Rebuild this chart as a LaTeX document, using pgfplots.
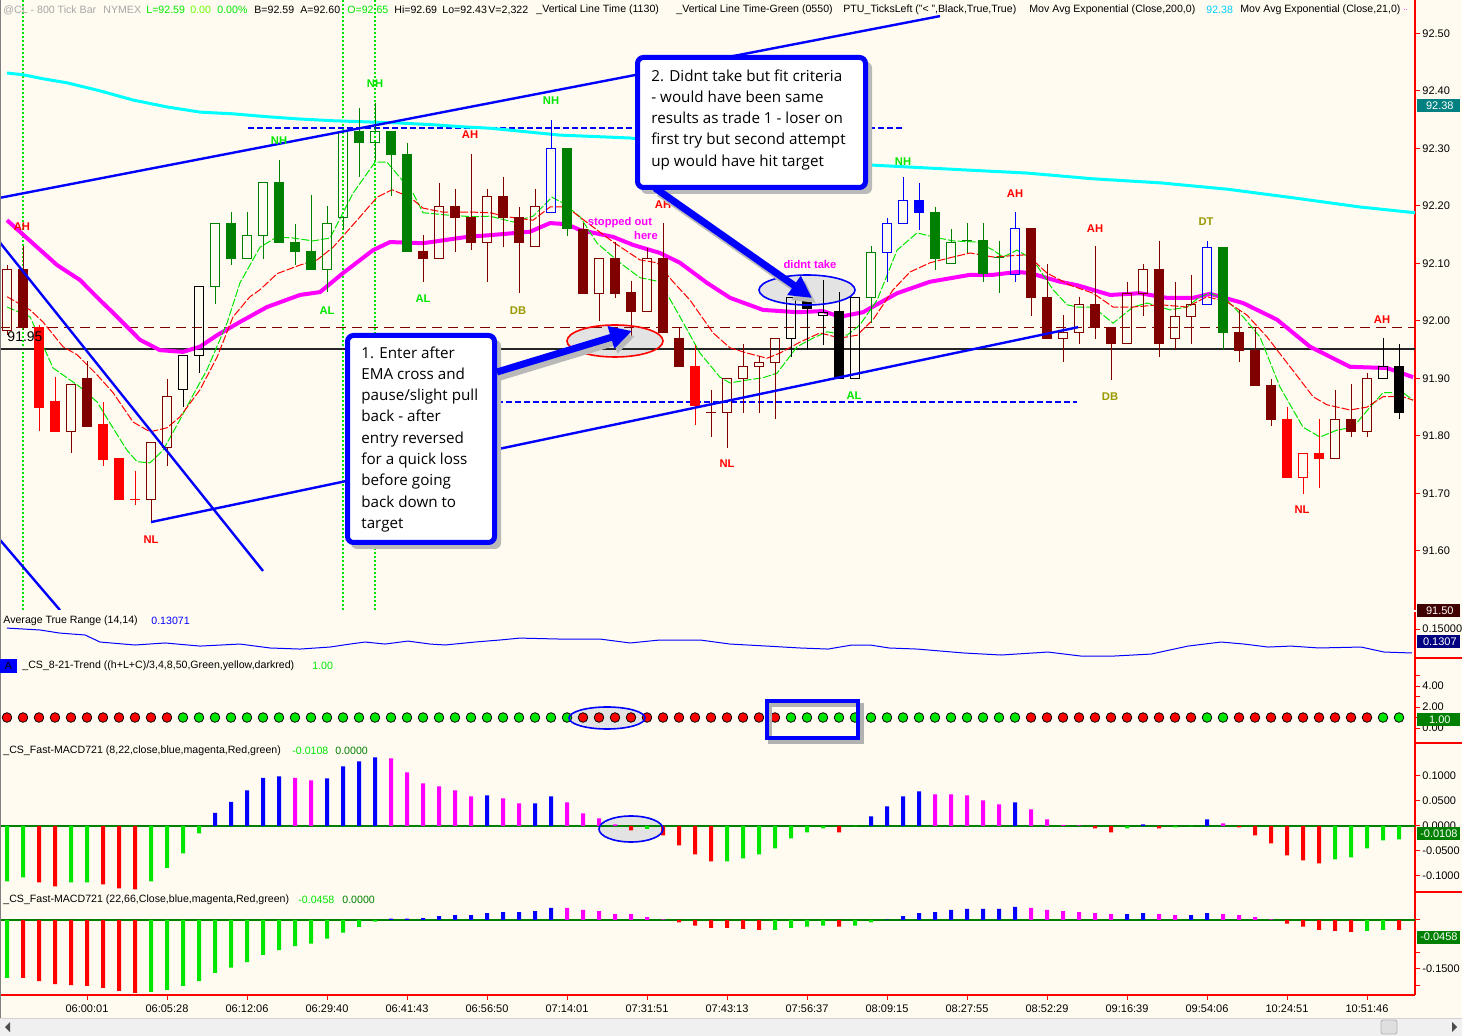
\documentclass[border=0pt]{standalone}
\usepackage{pgfplots}
\pgfplotsset{compat=1.18}
\usepackage{pgfplotstable}
\usepackage{fontspec}
\setmainfont{Liberation Sans}
\newfontfamily\osans{Open Sans}
\usetikzlibrary{arrows.meta}

\definecolor{bgc}{RGB}{255,251,240}
\definecolor{cgreen}{RGB}{0,128,0}
\definecolor{cdred}{RGB}{128,0,0}
\definecolor{cred}{RGB}{255,0,0}
\definecolor{cblue}{RGB}{0,0,255}
\definecolor{clime}{RGB}{0,230,0}
\definecolor{cmag}{RGB}{255,0,255}
\definecolor{ccyan}{RGB}{0,255,255}
\definecolor{colive}{RGB}{153,153,0}
\definecolor{cteal}{RGB}{0,128,128}
\definecolor{cnavy}{RGB}{0,0,128}
\definecolor{cdbrown}{RGB}{64,0,0}

\newcommand\sm{\fontsize{5.3}{6}\selectfont}
\newcommand\lb{\fontsize{5.6}{6}\selectfont\bfseries}

\tikzset{
 wk1/.style={draw=cgreen, line width=0.5pt}, bd1/.style={draw=cgreen, fill=none, line width=0.5pt},
 wk2/.style={draw=cgreen, line width=0.5pt}, bd2/.style={draw=cgreen, fill=cgreen, line width=0.5pt},
 wk3/.style={draw=cdred, line width=0.5pt}, bd3/.style={draw=cdred, fill=none, line width=0.5pt},
 wk4/.style={draw=cdred, line width=0.5pt}, bd4/.style={draw=cdred, fill=cdred, line width=0.5pt},
 wk5/.style={draw=cred, line width=0.5pt}, bd5/.style={draw=cred, fill=cred, line width=0.5pt},
 wk6/.style={draw=black, line width=0.5pt}, bd6/.style={draw=black, fill=none, line width=0.5pt},
 wk7/.style={draw=black, line width=0.5pt}, bd7/.style={draw=black, fill=black, line width=0.5pt},
 wk8/.style={draw=cblue, line width=0.5pt}, bd8/.style={draw=cblue, fill=none, line width=0.5pt},
 wk9/.style={draw=cblue, line width=0.5pt}, bd9/.style={draw=cblue, fill=cblue, line width=0.5pt},
 wk10/.style={draw=cred, line width=0.5pt}, bd10/.style={draw=cred, fill=none, line width=0.5pt},
}

\pgfplotsset{
 panel/.style={
  scale only axis, width=707.5pt, xmin=-0.4375, xmax=88,
  axis y line*=right,
  axis line style={red, line width=0.6pt},
  tick style={red, line width=0.5pt},
  tick align=outside, major tick length=2.5pt,
  yticklabel style={font=\fontsize{5.5}{6}\selectfont, black, inner sep=0.5pt, xshift=0.5pt},
  xticklabel style={font=\fontsize{5.5}{6}\selectfont, black, inner sep=1pt, yshift=-1pt},
  /pgf/number format/assume math mode=true,
 },
 noxaxis/.style={axis x line=none, xtick=\empty},
 bars/.style={ybar, bar width=2pt, bar shift=0pt, draw=none, fill=#1},
}

\pgfplotstableread{
i o h l c t
0 91.984 92.097 91.975 92.090 3
1 92.090 92.130 91.984 91.989 4
2 91.989 91.993 91.808 91.850 5
3 91.859 91.902 91.808 91.808 5
4 91.808 91.890 91.770 91.890 3
5 91.899 91.930 91.817 91.817 4
6 91.819 91.859 91.748 91.758 5
7 91.760 91.760 91.690 91.690 5
8 91.690 91.739 91.680 91.690 5
9 91.690 91.789 91.650 91.789 3
10 91.779 91.899 91.748 91.869 3
11 91.880 91.939 91.850 91.939 6
12 91.939 92.059 91.909 92.059 6
13 92.059 92.170 92.029 92.170 1
14 92.170 92.189 92.097 92.108 2
15 92.108 92.189 92.108 92.149 1
16 92.149 92.240 92.108 92.240 1
17 92.240 92.280 92.137 92.137 2
18 92.137 92.168 92.097 92.120 2
19 92.120 92.219 92.090 92.090 2
20 92.090 92.200 92.050 92.170 1
21 92.179 92.329 92.158 92.329 1
22 92.329 92.370 92.250 92.310 2
23 92.310 92.379 92.280 92.329 1
24 92.329 92.329 92.217 92.289 2
25 92.290 92.310 92.120 92.120 2
26 92.120 92.149 92.068 92.108 4
27 92.108 92.240 92.108 92.198 3
28 92.198 92.229 92.120 92.179 4
29 92.179 92.290 92.123 92.137 4
30 92.137 92.229 92.068 92.217 3
31 92.217 92.250 92.128 92.179 4
32 92.179 92.198 92.048 92.137 4
33 92.130 92.229 92.130 92.198 3
34 92.188 92.350 92.188 92.299 8
35 92.299 92.299 92.148 92.160 2
36 92.158 92.170 92.048 92.048 4
37 92.048 92.109 92.000 92.109 3
38 92.109 92.137 92.040 92.048 4
39 92.050 92.069 91.970 92.017 4
40 92.017 92.127 92.017 92.109 3
41 92.109 92.170 91.979 91.979 4
42 91.970 91.989 91.920 91.920 4
43 91.920 91.958 91.819 91.852 5
44 91.840 91.880 91.798 91.840 4
45 91.840 91.899 91.779 91.899 3
46 91.899 91.960 91.840 91.920 3
47 91.920 91.939 91.840 91.928 3
48 91.928 91.970 91.829 91.970 3
49 91.970 92.040 91.937 92.040 6
50 92.040 92.050 91.949 92.022 7
51 92.010 92.071 91.958 92.014 6
52 92.017 92.050 91.899 91.899 7
53 91.899 92.040 91.899 92.040 6
54 92.040 92.130 91.996 92.118 1
55 92.118 92.179 92.068 92.170 8
56 92.170 92.250 92.170 92.210 8
57 92.210 92.240 92.158 92.189 9
58 92.189 92.198 92.088 92.109 2
59 92.099 92.160 92.099 92.137 1
60 92.139 92.170 92.118 92.139 1
61 92.139 92.170 92.068 92.082 2
62 92.111 92.139 92.048 92.111 1
63 92.080 92.189 92.068 92.160 8
64 92.160 92.160 92.008 92.040 4
65 92.040 92.099 91.970 91.970 4
66 91.970 92.010 91.928 91.979 3
67 91.979 92.042 91.960 92.029 3
68 92.029 92.130 91.968 91.989 4
69 91.989 91.989 91.897 91.960 4
70 91.960 92.068 91.960 92.048 3
71 92.048 92.099 92.008 92.090 3
72 92.090 92.139 91.937 91.960 4
73 91.970 92.068 91.949 92.008 3
74 92.008 92.080 91.960 92.029 3
75 92.029 92.139 92.029 92.128 8
76 92.128 92.128 91.949 91.979 2
77 91.979 92.019 91.928 91.949 4
78 91.949 91.989 91.888 91.888 4
79 91.888 91.899 91.817 91.829 4
80 91.829 91.850 91.728 91.728 5
81 91.728 91.770 91.699 91.770 10
82 91.770 91.829 91.709 91.760 5
83 91.760 91.880 91.760 91.829 3
84 91.829 91.890 91.798 91.808 4
85 91.808 91.909 91.798 91.899 3
86 91.899 91.970 91.899 91.920 6
87 91.920 91.960 91.829 91.840 7
}\candles

\begin{document}
\begin{tikzpicture}[x=0.5pt,y=-0.5pt]
\fill[bgc] (0,0) rectangle (1462,1036);
\path[use as bounding box] (0,0) rectangle (1462,1036);

% ellipse fills (under the data)
\fill[gray!22] (615,341) ellipse [x radius=24pt, y radius=8pt];
\fill[gray!22] (807,290) ellipse [x radius=24pt, y radius=7.5pt];
\fill[gray!22] (607,718) ellipse [x radius=19pt, y radius=5.5pt];
\fill[gray!22] (631,829) ellipse [x radius=16pt, y radius=6.5pt];

% ---------------- main price panel ----------------
\begin{axis}[panel, noxaxis, at={(0pt,0pt)}, anchor=north west, height=305pt,
  ymin=91.4971, ymax=92.558,
  ytick={91.6,91.7,91.8,91.9,92.0,92.1,92.2,92.3,92.4,92.5},
  yticklabels={91.60,91.70,91.80,91.90,92.00,92.10,92.20,92.30,92.40,92.50}]
% vertical time lines
\addplot[clime, line width=1pt, dash pattern=on 1pt off 1pt] coordinates {(1,91.4971) (1,92.558)};
\addplot[clime, line width=1pt, dash pattern=on 1pt off 1pt] coordinates {(21,91.4971) (21,92.558)};
\addplot[clime, line width=1pt, dash pattern=on 1pt off 1pt] coordinates {(23,91.4971) (23,92.558)};
% horizontal lines
\addplot[cdred, line width=0.5pt, dash pattern=on 5pt off 3pt] coordinates {(-0.4375,91.989) (88,91.989)};
\addplot[black!85, line width=1.1pt] coordinates {(-0.4375,91.951) (88,91.951)};
\addplot[cblue, line width=1pt, dash pattern=on 3pt off 1.5pt] coordinates {(15.06,92.335) (55.94,92.335)};
\addplot[cblue, line width=1pt, dash pattern=on 3pt off 1.5pt] coordinates {(30.63,91.859) (66.88,91.859)};
% EMA 200 (cyan)
\addplot[ccyan, line width=1.5pt] coordinates {
(0,92.431) (1,92.428) (2.25,92.421) (3.75,92.414) (5.81,92.400) (7.88,92.384) (10,92.372) (12.06,92.363)
(14.13,92.360) (16.25,92.355) (18.31,92.351) (20.38,92.348) (22.5,92.346) (24.56,92.344) (26.63,92.341)
(28.75,92.337) (30.19,92.335) (34.56,92.323) (38.94,92.318) (46,92.295) (53.94,92.271) (60.19,92.262)
(63.75,92.257) (67.88,92.247) (72.06,92.240) (76.25,92.229) (80.38,92.214) (84.56,92.198) (88,92.188)};
% EMA 21 (magenta)
\addplot[cmag, line width=2pt] coordinates {
(0,92.175) (3.13,92.097) (4.56,92.071) (5.81,92.036) (6.63,92.014) (8.31,91.967) (9.56,91.949) (11,91.946)
(12.06,91.955) (13.13,91.975) (14.56,91.998) (16.25,92.024) (18.31,92.045) (19.56,92.050) (21,92.083)
(22.88,92.123) (23.94,92.137) (26,92.135) (28.75,92.146) (30.19,92.149) (32.69,92.155) (33.94,92.170)
(35,92.168) (35.81,92.158) (37.88,92.146) (39.13,92.132) (40.81,92.118) (42.06,92.101) (43.75,92.066)
(45.19,92.040) (47.25,92.019) (49.38,92.015) (51,92.017) (52.06,92.007) (53.5,92.015) (55.63,92.048)
(57.69,92.068) (60.19,92.080) (61.63,92.080) (63.13,92.085) (63.94,92.083) (65.81,92.068) (66.88,92.062)
(68.94,92.045) (70.81,92.048) (72.5,92.040) (74.13,92.040) (75.19,92.047) (77.25,92.031) (79.38,92.002)
(81.44,91.955) (83.94,91.920) (86.25,91.918) (87.88,91.902)};
% fast EMA (green)
\addplot[clime, line width=0.5pt, dash pattern=on 4pt off 1pt] coordinates {
(0,92.024) (1.44,92.007) (2.88,91.918) (3.75,91.901) (4.56,91.885) (5.63,91.859) (6.44,91.822) (7.5,91.775)
(8.13,91.755) (8.94,91.753) (9.75,91.775) (10.81,91.828) (11.63,91.871) (12.5,91.915) (13.75,91.996)
(14.56,92.066) (15.81,92.128) (16.88,92.146) (17.88,92.144) (19.13,92.139) (20.19,92.144) (21.63,92.222)
(23,92.276) (23.75,92.276) (25.38,92.222) (26,92.188) (27.5,92.184) (29.13,92.181) (30.19,92.182)
(31.63,92.172) (32.88,92.182) (34.06,92.215) (34.75,92.205) (35.81,92.181) (36.88,92.135) (38.31,92.101)
(39.56,92.075) (40.81,92.068) (42.06,92.007) (43.31,91.944) (44.56,91.902) (45.19,91.892) (46.25,91.897)
(47.25,91.901) (48.13,91.909) (49.38,91.955) (50.38,91.970) (51.25,91.981) (52.5,91.975) (53.31,91.993)
(54.38,92.036) (55.63,92.123) (56.88,92.153) (57.88,92.146) (59.13,92.139) (60.63,92.137) (61.63,92.123)
(62.25,92.111) (63.13,92.123) (64.13,92.106) (65.38,92.054) (66.25,92.028) (66.88,92.024) (67.88,92.024)
(69.13,91.996) (70.38,92.024) (71.25,92.031) (72.69,92.019) (73.75,92.024) (74.56,92.042) (75.19,92.048)
(76.25,92.036) (77.25,92.007) (78.31,91.972) (79.56,91.885) (81,91.815) (82.06,91.798) (83.13,91.810)
(84.13,91.815) (85.19,91.850) (86,91.875) (87.25,91.875) (87.88,91.862)};
% slow EMA (red)
\addplot[cred, line width=0.5pt, dash pattern=on 4pt off 1pt] coordinates {
(0,92.042) (1.44,92.019) (2.25,91.998) (3.5,91.955) (4.38,91.941) (5.63,91.906) (6.63,91.875) (7.88,91.824)
(8.94,91.807) (10,91.814) (10.81,91.833) (12.06,91.880) (13.13,91.937) (14.13,92.007) (15.19,92.042)
(15.81,92.054) (16.88,92.082) (18.31,92.097) (19.38,92.106) (20.38,92.128) (21.88,92.175) (23.13,92.215)
(24.06,92.228) (25.19,92.215) (26,92.196) (27.25,92.189) (29.13,92.189) (30.19,92.188) (31.25,92.181)
(32.88,92.175) (33.94,92.198) (35,92.198) (35.63,92.184) (37.88,92.137) (39.56,92.106) (40.63,92.101)
(41.63,92.068) (42.69,92.036) (44.13,91.979) (45.19,91.953) (46.25,91.944) (47.5,91.935) (48.31,91.944)
(49.56,91.963) (50.81,91.979) (52.06,91.970) (53.13,91.975) (54.13,92.002) (55.38,92.054) (56.44,92.085)
(57.69,92.101) (59.13,92.111) (60.19,92.118) (61.63,92.111) (63.75,92.115) (65,92.083) (66.44,92.062)
(67.88,92.048) (69.13,92.024) (70.38,92.024) (72.06,92.028) (73.75,92.024) (75,92.042) (76.25,92.033)
(77.5,92.010) (78.75,91.972) (80,91.927) (81.63,91.868) (82.5,91.854) (83.94,91.845) (85,91.850)
(86,91.868) (87.25,91.868) (87.88,91.862)};
% candles
\pgfplotsinvokeforeach{0,...,87}{%
 \pgfplotstablegetelem{#1}{o}\of\candles\let\co\pgfplotsretval
 \pgfplotstablegetelem{#1}{h}\of\candles\let\ch\pgfplotsretval
 \pgfplotstablegetelem{#1}{l}\of\candles\let\cl\pgfplotsretval
 \pgfplotstablegetelem{#1}{c}\of\candles\let\cc\pgfplotsretval
 \pgfplotstablegetelem{#1}{t}\of\candles\let\ct\pgfplotsretval
 \pgfmathsetmacro\ctop{max(\co,\cc)}%
 \pgfmathsetmacro\cbot{min(\co,\cc)}%
 \pgfmathsetmacro\xl{#1-0.31}%
 \pgfmathsetmacro\xr{#1+0.31}%
 \edef\temp{%
  \noexpand\addplot[wk\ct] coordinates {(#1,\ch) (#1,\ctop)};
  \noexpand\addplot[wk\ct] coordinates {(#1,\cbot) (#1,\cl)};
  \noexpand\addplot[bd\ct] coordinates {(\xl,\co) (\xr,\co) (\xr,\cc) (\xl,\cc) (\xl,\co)};
 }\temp
}
% trend lines
\addplot[cblue, line width=1.2pt] coordinates {(-0.4375,92.214) (58.31,92.530)};
\addplot[cblue, line width=1.2pt] coordinates {(9,91.650) (66.94,91.989)};
\addplot[cblue, line width=1.2pt] coordinates {(-0.4375,92.136) (16,91.565)};
\addplot[cblue, line width=1.2pt] coordinates {(-0.4375,91.619) (3.31,91.497)};
\end{axis}

% ---------------- ATR panel ----------------
\begin{axis}[panel, noxaxis, at={(0pt,-306pt)}, anchor=north west, height=23pt,
  ymin=0.1257, ymax=0.1643, ytick={0.15}, yticklabels={0.15000}]
\addplot[cblue, line width=0.5pt] coordinates {
(0,0.1508) (2.06,0.1492) (3.31,0.1466) (4.88,0.1450) (5.81,0.1391) (8,0.1366) (9.88,0.1383) (12.06,0.1357)
(14.56,0.1374) (16.44,0.1341) (18.31,0.1332) (20.19,0.1349) (21.44,0.1374) (22.38,0.1391) (23.63,0.1374)
(25.06,0.1399) (26.44,0.1374) (27.38,0.1366) (29.25,0.1391) (30.81,0.1408) (32.06,0.1424) (34.56,0.1416)
(37.06,0.1416) (38.94,0.1383) (40.81,0.1408) (43.31,0.1408) (45.19,0.1374) (47.5,0.1357) (49.56,0.1341)
(51.31,0.1332) (52.81,0.1366) (53.94,0.1366) (55.13,0.1341) (56.88,0.1332) (59.81,0.1299) (62.13,0.1282)
(65.06,0.1307) (67.13,0.1273) (69.13,0.1273) (71.5,0.1290) (73.81,0.1357) (75.88,0.1391) (77.31,0.1374)
(78.81,0.1349) (80.25,0.1357) (82,0.1341) (84.63,0.1349) (86.06,0.1307) (87.81,0.1299)};
\end{axis}

% ---------------- CS trend dots ----------------
\begin{axis}[panel, noxaxis, at={(0pt,-329pt)}, anchor=north west, height=42.5pt,
  ymin=-1.4286, ymax=6.667, ytick={0,1,2,3,4,5}, yticklabels={0.00,{},2.00,{},4.00,{}}]
\addplot[only marks, mark=*, mark size=2.4pt, mark options={draw=none, fill=cred}] coordinates {
(0,1)(1,1)(2,1)(3,1)(4,1)(5,1)(6,1)(7,1)(8,1)(9,1)(10,1)
(36,1)(37,1)(38,1)(39,1)(40,1)(41,1)(42,1)(43,1)(44,1)(45,1)(46,1)(47,1)(48,1)
(64,1)(65,1)(66,1)(67,1)(68,1)(69,1)(70,1)(71,1)(72,1)(73,1)(74,1)
(77,1)(78,1)(79,1)(80,1)(81,1)(82,1)(83,1)(84,1)(85,1)};
\addplot[only marks, mark=*, mark size=2.4pt, mark options={draw=none, fill=clime}] coordinates {
(11,1)(12,1)(13,1)(14,1)(15,1)(16,1)(17,1)(18,1)(19,1)(20,1)(21,1)(22,1)(23,1)(24,1)(25,1)(26,1)(27,1)
(28,1)(29,1)(30,1)(31,1)(32,1)(33,1)(34,1)(35,1)
(49,1)(50,1)(51,1)(52,1)(53,1)(54,1)(55,1)(56,1)(57,1)(58,1)(59,1)(60,1)(61,1)(62,1)(63,1)
(75,1)(76,1)(86,1)(87,1)};
\end{axis}

% ---------------- Fast MACD (8,22) ----------------
\begin{axis}[panel, noxaxis, at={(0pt,-371.5pt)}, anchor=north west, height=74.5pt,
  ymin=-0.132, ymax=0.166, ytick={-0.1,-0.05,0,0.05,0.1},
  yticklabels={-0.1000,-0.0500,0.0000,0.0500,0.1000}]
\addplot[cgreen, line width=0.6pt] coordinates {(-0.4375,0) (88,0)};
\addplot[bars=clime] coordinates {(0,-0.111)(1,-0.103)(4,-0.113)(5,-0.113)(9,-0.111)(10,-0.084)(11,-0.055)(12,-0.015)(40,-0.006)(45,-0.071)(46,-0.065)(47,-0.057)(48,-0.045)(49,-0.025)(50,-0.013)(51,-0.005)(53,-0.001)(70,-0.005)(73,-0.003)(74,-0.001)(83,-0.067)(84,-0.063)(85,-0.045)(86,-0.029)(87,-0.027)};
\addplot[bars=cred] coordinates {(2,-0.113)(3,-0.121)(6,-0.117)(7,-0.125)(8,-0.127)(39,-0.009)(41,-0.019)(42,-0.039)(43,-0.057)(44,-0.071)(52,-0.013)(68,-0.005)(69,-0.013)(72,-0.005)(77,-0.003)(78,-0.019)(79,-0.035)(80,-0.059)(81,-0.069)(82,-0.075)};
\addplot[bars=cblue] coordinates {(13,0.026)(14,0.048)(15,0.071)(16,0.096)(17,0.099)(20,0.095)(21,0.119)(22,0.129)(23,0.137)(30,0.061)(33,0.045)(34,0.059)(54,0.019)(55,0.039)(56,0.059)(57,0.069)(63,0.047)(71,0.003)(75,0.013)};
\addplot[bars=cmag] coordinates {(18,0.096)(19,0.091)(24,0.135)(25,0.107)(26,0.085)(27,0.079)(28,0.071)(29,0.059)(31,0.055)(32,0.045)(35,0.047)(36,0.025)(37,0.015)(38,0.003)(58,0.063)(59,0.063)(60,0.061)(61,0.051)(62,0.043)(64,0.033)(65,0.013)(66,0.002)(67,0.001)(76,0.005)};
\end{axis}

% ---------------- Fast MACD (22,66) ----------------
\begin{axis}[panel, at={(0pt,-446pt)}, anchor=north west, height=51.5pt,
  ymin=-0.2296, ymax=0.0857, ytick={0,-0.1,-0.15,-0.2}, yticklabels={{},{},-0.1500,{}},
  axis x line*=bottom, xtick={5,10,...,85},
  xticklabels={06:00:01,06:05:28,06:12:06,06:29:40,06:41:43,06:56:50,07:14:01,07:31:51,07:43:13,07:56:37,08:09:15,08:27:55,08:52:29,09:16:39,09:54:06,10:24:51,10:51:46}]
\addplot[cgreen, line width=0.6pt] coordinates {(-0.4375,0) (88,0)};
\addplot[bars=clime] coordinates {(0,-0.177)(9,-0.220)(10,-0.214)(11,-0.202)(12,-0.187)(13,-0.162)(14,-0.146)(15,-0.129)(16,-0.107)(17,-0.092)(18,-0.080)(19,-0.072)(20,-0.057)(21,-0.039)(22,-0.021)(23,-0.005)(48,-0.030)(49,-0.024)(50,-0.020)(51,-0.017)(53,-0.017)(54,-0.007)(85,-0.033)(86,-0.030)};
\addplot[bars=cred] coordinates {(1,-0.177)(2,-0.187)(3,-0.196)(4,-0.199)(5,-0.202)(6,-0.208)(7,-0.217)(8,-0.223)(42,-0.007)(43,-0.017)(44,-0.024)(45,-0.024)(46,-0.027)(47,-0.030)(52,-0.020)(80,-0.011)(81,-0.020)(82,-0.030)(83,-0.033)(84,-0.036)(87,-0.030)};
\addplot[bars=cblue] coordinates {(24,0.004)(25,0.004)(26,0.006)(27,0.012)(28,0.015)(29,0.015)(30,0.021)(31,0.024)(32,0.024)(33,0.027)(34,0.037)(55,0.001)(56,0.012)(57,0.021)(58,0.024)(59,0.031)(60,0.034)(61,0.034)(62,0.034)(63,0.040)(70,0.018)(71,0.021)(74,0.015)(75,0.021)};
\addplot[bars=cmag] coordinates {(35,0.037)(36,0.031)(37,0.027)(38,0.018)(39,0.018)(40,0.009)(41,0.002)(64,0.037)(65,0.031)(66,0.027)(67,0.024)(68,0.021)(69,0.018)(72,0.018)(73,0.015)(76,0.018)(77,0.015)(78,0.009)(79,0.002)};
\end{axis}

% ---------------- decorations ----------------
\draw[gray, line width=0.5pt] (0.5,0) -- (0.5,1018);
\foreach \yy in {658,743,892} \draw[red, line width=0.6pt] (1415,\yy) -- (1462,\yy);

% header
\begin{scope}[every node/.style={anchor=west, inner sep=0pt, font=\sm}]
\node[text=gray!70] at (3,10) {@CL - 800 Tick Bar};
\node[text=gray!70] at (103,10) {NYMEX};
\node[text=clime] at (146,10) {L=92.59};
\node[text=green!60!yellow] at (190,10) {0.00};
\node[text=clime] at (217,10) {0.00\%};
\node at (254,10) {B=92.59};
\node at (300,10) {A=92.60};
\node[text=clime] at (347,10) {O=92.65};
\node at (394,10) {Hi=92.69};
\node at (442,10) {Lo=92.43};
\node at (488,10) {V=2,322};
\node at (536,10) {\_Vertical Line Time (1130)};
\node at (676,10) {\_Vertical Line Time-Green (0550)};
\node at (843,10) {PTU\_TicksLeft ("< ",Black,True,True)};
\node at (1029,10) {Mov Avg Exponential (Close,200,0)};
\node[text=ccyan!80!blue] at (1206,10) {92.38};
\node at (1240,10) {Mov Avg Exponential (Close,21,0)};
\node[text=cmag, font=\fontsize{4}{5}\selectfont] at (1403,10) {..};
% panel titles
\node at (3,621) {Average True Range (14,14)};
\node[text=cblue] at (151,621) {0.13071};
\node at (22,666) {\_CS\_8-21-Trend ((h+L+C)/3,4,8,50,Green,yellow,darkred)};
\node[text=clime] at (312,666) {1.00};
\node at (3,751) {\_CS\_Fast-MACD721 (8,22,close,blue,magenta,Red,green)};
\node[text=clime] at (292,751) {-0.0108};
\node[text=cgreen] at (335,751) {0.0000};
\node at (3,900) {\_CS\_Fast-MACD721 (22,66,Close,blue,magenta,Red,green)};
\node[text=clime] at (298,900) {-0.0458};
\node[text=cgreen] at (342,900) {0.0000};
\end{scope}
\fill[cblue] (0,659) rectangle (17,673);
\node[font=\sm, inner sep=0pt] at (8.5,666) {A};

% right-axis value boxes
\begin{scope}[every node/.style={anchor=west, inner sep=0pt, font=\fontsize{5.5}{6}\selectfont, text=white, minimum height=6.5pt, minimum width=21.5pt}]
\node[fill=cteal] at (1417,106) {\,92.38};
\node[fill=cdbrown] at (1417,611) {\,91.50};
\node[fill=cnavy] at (1417,642) {\,0.1307};
\node[fill=cgreen] at (1417,720) {\,1.00};
\node[fill=cgreen] at (1417,834) {-0.0108};
\node[fill=cgreen] at (1417,937) {-0.0458};
\end{scope}

% chart labels
\begin{scope}[every node/.style={inner sep=0pt, font=\lb}]
\foreach \p in {(22,227),(470,135),(663,205),(1015,194),(1095,229),(1382,320)} \node[text=cred] at \p {AH};
\foreach \p in {(375,84),(279,141),(551,101),(903,162)} \node[text=clime] at \p {NH};
\foreach \p in {(327,311),(423,299),(854,396)} \node[text=clime] at \p {AL};
\foreach \p in {(151,540),(727,464),(1302,510)} \node[text=cred] at \p {NL};
\foreach \p in {(518,311),(1110,397)} \node[text=colive] at \p {DB};
\node[text=colive] at (1206,222) {DT};
\node[text=cmag] at (620,223) {stopped out};
\node[text=cmag] at (646,236) {here};
\node[text=cmag] at (810,265) {didnt take};
\end{scope}
\node[font=\fontsize{7}{8}\selectfont, inner sep=0pt] at (25,337) {91.95};

% ellipse outlines
\draw[cred, line width=0.8pt] (615,341) ellipse [x radius=24pt, y radius=8pt];
\draw[cblue, line width=0.8pt] (807,290) ellipse [x radius=24pt, y radius=7.5pt];
\draw[cblue, line width=0.8pt] (607,718) ellipse [x radius=19pt, y radius=5.5pt];
\draw[cblue, line width=0.8pt] (631,829) ellipse [x radius=16pt, y radius=6.5pt];
% rectangle in trend panel
\draw[gray!60, line width=2pt] (770,705) rectangle (862,742);
\draw[cblue, line width=2pt] (767,701) rectangle (858,738);

% annotation box 1
\fill[gray!55, rounded corners=3pt] (351,340) rectangle (501,549);
\draw[cblue, line width=2.5pt, fill=white, rounded corners=3pt] (347.5,335.5) rectangle (494.5,542.5);
\node[anchor=north west, align=left, inner sep=0pt, font=\osans\fontsize{7.6}{10.65}\selectfont] at (361,346)
 {1. Enter after\\EMA cross and\\pause/slight pull\\back - after\\entry reversed\\for a quick loss\\before going\\back down to\\target};
\draw[gray!55, line width=3.5pt, -{Triangle[length=11pt,width=11pt]}] (500,377) -- (635,336);
\draw[cblue, line width=3.5pt, -{Triangle[length=11pt,width=11pt]}] (497,372) -- (632,331);

% annotation box 2
\fill[gray!55, rounded corners=3pt] (641,62) rectangle (872,194);
\draw[cblue, line width=2.5pt, fill=white, rounded corners=3pt] (637.5,57.5) rectangle (865.5,187.5);
\node[anchor=north west, align=left, inner sep=0pt, font=\osans\fontsize{7.6}{10.65}\selectfont] at (651,69)
 {2. Didnt take but fit criteria\\- would have been same\\results as trade 1 - loser on\\first try but second attempt\\up would have hit target};
\draw[gray!55, line width=3.5pt, -{Triangle[length=11pt,width=11pt]}] (659,193) -- (816,303);
\draw[cblue, line width=3.5pt, -{Triangle[length=11pt,width=11pt]}] (655,188) -- (812,298);

% scrollbar
\fill[gray!12] (0,1018) rectangle (1462,1036);
\draw[gray!35, line width=0.5pt] (0,1018.5) -- (1462,1018.5);
\draw[gray!60, fill=gray!25, rounded corners=1pt] (1381,1020) rectangle (1397,1034);
\fill[black!70] (5,1027) -- (10,1022) -- (10,1032) -- cycle;
\fill[black!70] (1457,1027) -- (1452,1022) -- (1452,1032) -- cycle;
\end{tikzpicture}
\end{document}
